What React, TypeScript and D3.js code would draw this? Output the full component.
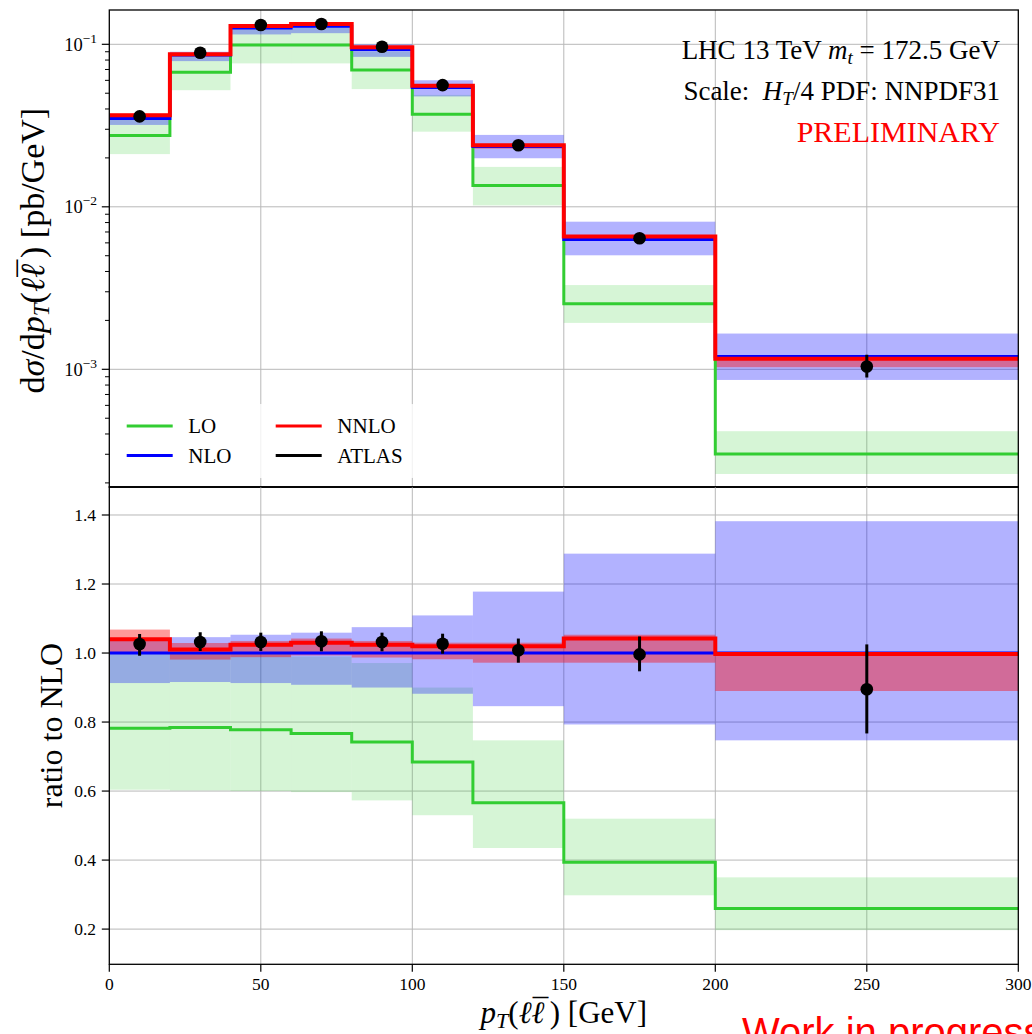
import React from "react";
import * as d3 from "d3";

// ---- data ----
const binEdges = [0, 20, 40, 60, 80, 100, 120, 150, 200, 300];
const binCenters = [10, 30, 50, 70, 90, 110, 135, 175, 250];

// top panel: dsigma/dpT [pb/GeV]
const loVal = [0.0275, 0.0672, 0.099, 0.099, 0.0694, 0.0371, 0.01353, 0.00253, 0.000301];
const loHi = [0.035, 0.086, 0.126, 0.128, 0.0905, 0.0488, 0.0176, 0.0033, 0.000416];
const loLo = [0.0211, 0.0522, 0.0763, 0.0763, 0.053, 0.029, 0.0102, 0.00193, 0.000227];
const nloVal = [0.035, 0.086, 0.126, 0.129, 0.093, 0.0542, 0.0235, 0.0063, 0.0012];
const nloHi = [0.0364, 0.09, 0.1327, 0.1366, 0.1, 0.0601, 0.0277, 0.0081, 0.00166];
const nloLo = [0.0319, 0.0788, 0.115, 0.1171, 0.0837, 0.0478, 0.0199, 0.00503, 0.00086];
const nnloVal = [0.0366, 0.0868, 0.1297, 0.1334, 0.0958, 0.0555, 0.0239, 0.00656, 0.00116];
const nnloHi = [0.0374, 0.0885, 0.1304, 0.1344, 0.0963, 0.0558, 0.0242, 0.00669, 0.0012];
const nnloLo = [0.0351, 0.0844, 0.1245, 0.1281, 0.0918, 0.0532, 0.0228, 0.00617, 0.00103];
const atlasVal = [0.036, 0.0888, 0.1316, 0.1334, 0.0967, 0.0561, 0.0239, 0.0064, 0.00104];
const atlasLo = [0.0347, 0.0865, 0.1268, 0.1297, 0.0937, 0.0541, 0.0228, 0.00601, 0.00089];
const atlasHi = [0.0369, 0.0912, 0.1334, 0.1371, 0.0985, 0.0572, 0.0245, 0.00665, 0.00123];

// bottom panel: ratio to NLO
const rLoVal = [0.782, 0.784, 0.778, 0.767, 0.742, 0.684, 0.566, 0.394, 0.26];
const rLoHi = [1.0, 1.0, 1.0, 0.99, 0.971, 0.9, 0.747, 0.52, 0.35];
const rLoLo = [0.604, 0.602, 0.6, 0.597, 0.573, 0.53, 0.435, 0.298, 0.197];
const rNloVal = [1, 1, 1, 1, 1, 1, 1, 1, 1];
const rNloHi = [1.04, 1.046, 1.053, 1.059, 1.075, 1.109, 1.178, 1.288, 1.382];
const rNloLo = [0.913, 0.916, 0.913, 0.908, 0.9, 0.882, 0.846, 0.793, 0.747];
const rNnloVal = [1.04, 1.01, 1.024, 1.03, 1.024, 1.02, 1.02, 1.042, 0.997];
const rNnloHi = [1.068, 1.029, 1.035, 1.042, 1.035, 1.03, 1.03, 1.053, 1.003];
const rNnloLo = [1.002, 0.981, 0.988, 0.993, 0.987, 0.982, 0.972, 0.972, 0.89];
const rAtlasVal = [1.026, 1.032, 1.032, 1.034, 1.032, 1.027, 1.008, 0.996, 0.895];
const rAtlasHi = [1.055, 1.06, 1.059, 1.063, 1.059, 1.056, 1.042, 1.048, 1.025];
const rAtlasLo = [0.992, 1.006, 1.006, 1.005, 1.005, 0.998, 0.972, 0.947, 0.767];

const xTicks = [0, 50, 100, 150, 200, 250, 300];
const ratioTicks = [0.2, 0.4, 0.6, 0.8, 1.0, 1.2, 1.4];
const logMajor = [1e-3, 1e-2, 1e-1];
const logMajorExp = ["\u22123", "\u22122", "\u22121"];

const legendItems = [
  { label: "LO", color: "#32cd32", col: 0, row: 0 },
  { label: "NLO", color: "#0000ff", col: 0, row: 1 },
  { label: "NNLO", color: "#ff0000", col: 1, row: 0 },
  { label: "ATLAS", color: "#000000", col: 1, row: 1 },
];

const GREEN = "#32cd32";
const BLUE = "#0000ff";
const RED = "#ff0000";
const GRID = "#b8b8b8";
const SERIF = "'Liberation Serif', 'Times New Roman', serif";

const L = 109.3, R = 1018.3;
const T1 = 10, B1 = 487.3;
const T2 = 486.7, B2 = 964.3;

export default function App() {
  const x = d3.scaleLinear().domain([0, 300]).range([L, R]);
  const yT = d3.scaleLog().domain([1.879e-4, 0.1626]).range([B1, T1]);
  const yR = d3.scaleLinear().domain([0.098, 1.482]).range([B2, T2]);

  const stepPath = (vals: number[], y: (v: number) => number) => {
    const pts = vals.map((v, i) => [binEdges[i], v] as [number, number]);
    pts.push([binEdges[binEdges.length - 1], vals[vals.length - 1]]);
    return d3
      .line<[number, number]>()
      .x((d) => x(d[0]))
      .y((d) => y(d[1]))
      .curve(d3.curveStepAfter)(pts) as string;
  };

  const bands = (hi: number[], lo: number[], y: (v: number) => number, color: string, op: number, key: string) =>
    hi.map((h, i) => {
      const y0 = y(h), y1 = y(lo[i]);
      return (
        <rect
          key={key + i}
          x={x(binEdges[i])}
          width={x(binEdges[i + 1]) - x(binEdges[i])}
          y={Math.min(y0, y1)}
          height={Math.abs(y1 - y0)}
          fill={color}
          fillOpacity={op}
        />
      );
    });

  const points = (vals: number[], lo: number[], hi: number[], y: (v: number) => number, key: string) => (
    <g>
      {vals.map((v, i) => (
        <line key={key + "e" + i} x1={x(binCenters[i])} x2={x(binCenters[i])} y1={y(lo[i])} y2={y(hi[i])} stroke="#000" strokeWidth={3} />
      ))}
      {vals.map((v, i) => (
        <circle key={key + "c" + i} cx={x(binCenters[i])} cy={y(v)} r={6.3} fill="#000" />
      ))}
    </g>
  );

  const minorTicks: number[] = [];
  [1e-4, 1e-3, 1e-2, 1e-1].forEach((d) => {
    for (let k = 2; k <= 9; k++) {
      const v = k * d;
      if (v >= yT.domain()[0] && v <= yT.domain()[1]) minorTicks.push(v);
    }
  });

  const gridX = xTicks.filter((t) => t > 0 && t < 300);

  // ℓ ℓ-bar : second ℓ gets a macron placed over it
  const ellBar = (
    <>
      <tspan fontStyle="italic">{"\u2113\u2113"}</tspan>
      <tspan dx="-0.38em" dy="-0.07em">{"\u00AF"}</tspan>
      <tspan dx="0.05em" dy="0.07em">)</tspan>
    </>
  );

  return (
    <svg width={1032} height={1034} style={{ position: "absolute", left: 0, top: 0, background: "#fff" }} fontFamily={SERIF}>
      <defs>
        <clipPath id="clipTop"><rect x={L} y={T1} width={R - L} height={B1 - T1} /></clipPath>
        <clipPath id="clipBot"><rect x={L} y={T2} width={R - L} height={B2 - T2} /></clipPath>
      </defs>
      <rect x={0} y={0} width={1032} height={1034} fill="#fff" />

      {/* ---------- top panel ---------- */}
      <g clipPath="url(#clipTop)">
        {gridX.map((t) => (
          <line key={"gxt" + t} x1={x(t)} x2={x(t)} y1={T1} y2={B1} stroke={GRID} strokeWidth={1} />
        ))}
        {logMajor.map((t) => (
          <line key={"gyt" + t} x1={L} x2={R} y1={yT(t)} y2={yT(t)} stroke={GRID} strokeWidth={1} />
        ))}
        {bands(loHi, loLo, yT, GREEN, 0.2, "lb")}
        {bands(nloHi, nloLo, yT, BLUE, 0.3, "nb")}
        {bands(nnloHi, nnloLo, yT, RED, 0.4, "nnb")}
        <path d={stepPath(loVal, yT)} fill="none" stroke={GREEN} strokeWidth={3} />
        <path d={stepPath(nloVal, yT)} fill="none" stroke={BLUE} strokeWidth={3} />
        <path d={stepPath(nnloVal, yT)} fill="none" stroke={RED} strokeWidth={4} />
        {points(atlasVal, atlasLo, atlasHi, yT, "at")}
      </g>

      {/* legend */}
      <rect x={116} y={404} width={300} height={74} rx={4} fill="#fff" fillOpacity={0.8} />
      {legendItems.map((it) => {
        const lx = 126.7 + it.col * 149;
        const ly = 426 + it.row * 29.5;
        return (
          <g key={it.label}>
            <line x1={lx} x2={lx + 46} y1={ly} y2={ly} stroke={it.color} strokeWidth={3} />
            <text x={lx + 61.6} y={ly + 7.3} fontSize={21} fill="#000">{it.label}</text>
          </g>
        );
      })}

      {/* annotations */}
      <text x={1000} y={59} textAnchor="end" fontSize={27} fill="#000">
        LHC 13 TeV <tspan fontStyle="italic">m</tspan>
        <tspan fontStyle="italic" fontSize={19} dy={5}>t</tspan>
        <tspan dy={-5}> = 172.5 GeV</tspan>
      </text>
      <text x={1000} y={100} textAnchor="end" fontSize={27} fill="#000" style={{ whiteSpace: "pre" }}>
        {"Scale:  "}<tspan fontStyle="italic">H</tspan>
        <tspan fontStyle="italic" fontSize={19} dy={5}>T</tspan>
        <tspan dy={-5}>/4 PDF: NNPDF31</tspan>
      </text>
      <text x={1000} y={141.7} textAnchor="end" fontSize={30} fill={RED}>PRELIMINARY</text>

      {/* top axes */}
      <rect x={L} y={T1} width={R - L} height={B1 - T1} fill="none" stroke="#000" strokeWidth={1.3} />
      {logMajor.map((t, i) => (
        <g key={"lt" + t}>
          <line x1={L - 7.5} x2={L} y1={yT(t)} y2={yT(t)} stroke="#000" strokeWidth={1.2} />
          <text x={97} y={yT(t) + 6.5} textAnchor="end" fontSize={18.5} fill="#000">
            10<tspan fontSize={13.5} dy={-8}>{logMajorExp[i]}</tspan>
          </text>
        </g>
      ))}
      {minorTicks.map((t) => (
        <line key={"mt" + t} x1={L - 4.3} x2={L} y1={yT(t)} y2={yT(t)} stroke="#000" strokeWidth={1} />
      ))}
      <text transform={`translate(44,${(T1 + B1) / 2 + 2}) rotate(-90)`} textAnchor="middle" fontSize={34} fill="#000">
        d<tspan fontStyle="italic">σ</tspan>/d<tspan fontStyle="italic">p</tspan>
        <tspan fontStyle="italic" fontSize={23} dy={5}>T</tspan>
        <tspan dy={-5}>(</tspan>
        {ellBar}
        <tspan> [pb/GeV]</tspan>
      </text>

      {/* ---------- bottom panel ---------- */}
      <g clipPath="url(#clipBot)">
        {gridX.map((t) => (
          <line key={"gxb" + t} x1={x(t)} x2={x(t)} y1={T2} y2={B2} stroke={GRID} strokeWidth={1} />
        ))}
        {ratioTicks.map((t) => (
          <line key={"gyb" + t} x1={L} x2={R} y1={yR(t)} y2={yR(t)} stroke={GRID} strokeWidth={1} />
        ))}
        {bands(rLoHi, rLoLo, yR, GREEN, 0.2, "rlb")}
        {bands(rNloHi, rNloLo, yR, BLUE, 0.3, "rnb")}
        {bands(rNnloHi, rNnloLo, yR, RED, 0.4, "rnnb")}
        <path d={stepPath(rLoVal, yR)} fill="none" stroke={GREEN} strokeWidth={3} />
        <path d={stepPath(rNloVal, yR)} fill="none" stroke={BLUE} strokeWidth={3} />
        <path d={stepPath(rNnloVal, yR)} fill="none" stroke={RED} strokeWidth={4} />
        {points(rAtlasVal, rAtlasLo, rAtlasHi, yR, "rat")}
      </g>
      <rect x={L} y={T2} width={R - L} height={B2 - T2} fill="none" stroke="#000" strokeWidth={1.3} />
      {ratioTicks.map((t) => (
        <g key={"rt" + t}>
          <line x1={L - 7.5} x2={L} y1={yR(t)} y2={yR(t)} stroke="#000" strokeWidth={1.2} />
          <text x={96} y={yR(t) + 6.3} textAnchor="end" fontSize={17.5} fill="#000">{t.toFixed(1)}</text>
        </g>
      ))}
      {xTicks.map((t) => (
        <g key={"xt" + t}>
          <line x1={x(t)} x2={x(t)} y1={B2} y2={B2 + 7.5} stroke="#000" strokeWidth={1.2} />
          <text x={x(t)} y={990} textAnchor="middle" fontSize={17.5} fill="#000">{t}</text>
        </g>
      ))}
      <text transform={`translate(62,${(T2 + B2) / 2}) rotate(-90)`} textAnchor="middle" fontSize={32} fill="#000">
        ratio to NLO
      </text>
      <text x={(L + R) / 2} y={1023} textAnchor="middle" fontSize={31} fill="#000">
        <tspan fontStyle="italic">p</tspan>
        <tspan fontStyle="italic" fontSize={22} dy={5}>T</tspan>
        <tspan dy={-5}>(</tspan>
        {ellBar}
        <tspan> [GeV]</tspan>
      </text>

      <text x={742} y={1046} fontFamily="'Liberation Sans', Arial, sans-serif" fontSize={40} fill={RED}>
        Work in progress
      </text>
    </svg>
  );
}
